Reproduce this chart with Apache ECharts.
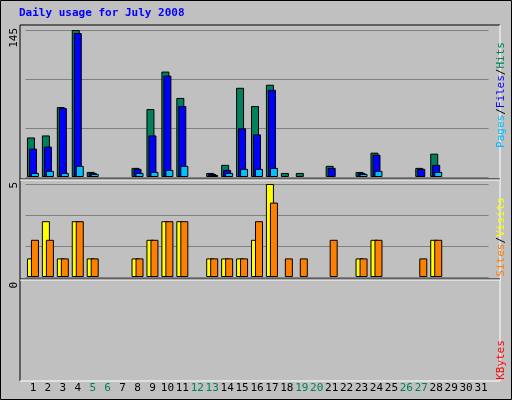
<!DOCTYPE html><html><head><meta charset="utf-8"><script src="https://cdn.jsdelivr.net/npm/echarts@6/dist/echarts.min.js"></script>
<style>html,body{margin:0;padding:0;background:#C0C0C0}#c{width:512px;height:400px}</style></head><body><div id="c"></div><script>
const days=['1','2','3','4','5','6','7','8','9','10','11','12','13','14','15','16','17','18','19','20','21','22','23','24','25','26','27','28','29','30','31'];
const weekend=['5','6','12','13','19','20','26','27'];
const hits=[39,41,69,145,5,0,0,9,67,104,78,0,4,12,88,70,91,4,4,0,11,0,5,24,0,0,9,23,0,0,0];
const files=[28,30,68,142,4,0,0,8,41,100,70,0,3,7,48,42,86,0,0,0,9,0,4,22,0,0,8,12,0,0,0];
const pages=[4,6,4,11,3,0,0,4,5,7,11,0,2,4,8,8,9,0,0,0,0,0,3,6,0,0,0,5,0,0,0];
const visits=[1,3,1,3,1,0,0,1,2,3,3,0,1,1,1,2,5,0,0,0,0,0,1,2,0,0,0,2,0,0,0];
const sites=[2,2,1,3,1,0,0,1,2,3,3,0,1,1,1,3,4,1,1,0,2,0,1,2,0,0,1,2,0,0,0];
const hitsMax=145, visMax=5, kbMax=0;
const nz=a=>a.map(v=>v===0?'-':v);
const ch=echarts.init(document.getElementById('c'));
const F='DejaVu Sans Mono';
const bs={borderColor:'#000',borderWidth:1};
const xa=(i,show)=>({type:'category',gridIndex:i,data:days,show:show,axisLine:{show:false},axisTick:{show:false},
 axisLabel:{show:show,interval:0,fontFamily:F,fontSize:11,margin:5,color:v=>weekend.includes(v)?'#00805C':'#000'}});
const ya=(i,max)=>({type:'value',gridIndex:i,min:0,max:max,interval:max/3,axisLabel:{show:false},axisLine:{show:false},axisTick:{show:false},
 splitLine:{show:i<2,lineStyle:{color:'#808080',width:1}}});
function line(x1,y1,x2,y2,c){return {type:'line',shape:{x1,y1,x2,y2},style:{stroke:c,lineWidth:1},z:-1};}
ch.setOption({animation:false,backgroundColor:'#C0C0C0',
 grid:[{left:25.5,width:463,top:30,height:147},{left:25.5,width:463,top:184,height:93},{left:25.5,width:463,top:282,height:96}],
 xAxis:[xa(0,false),xa(1,false),xa(2,true)],
 yAxis:[ya(0,hitsMax),ya(1,visMax),{type:'value',gridIndex:2,min:0,max:1,show:false,splitLine:{show:false}}],
 graphic:[
  {type:'rect',shape:{x:0.5,y:0.5,width:511,height:399},style:{fill:'none',stroke:'#000'},z:-2},
  line(20,25,500,25,'#000'),line(20,25,20,381,'#000'),line(20,381,500,381,'#fff'),line(500,25,500,381,'#fff'),
  line(20,179,500,179,'#000'),line(20,180,500,180,'#fff'),line(20,279,500,279,'#000'),line(20,280,500,280,'#fff'),
  {type:'text',x:19,y:8,style:{text:'Daily usage for July 2008',font:'bold 11px '+F,fill:'#0000FF'}},
  {type:'text',x:9,y:28,rotation:Math.PI/2,style:{text:String(hitsMax),font:'11px '+F,fill:'#000',align:'right',verticalAlign:'top'}},
  {type:'text',x:9,y:182,rotation:Math.PI/2,style:{text:String(visMax),font:'11px '+F,fill:'#000',align:'right',verticalAlign:'top'}},
  {type:'text',x:9,y:282,rotation:Math.PI/2,style:{text:String(kbMax),font:'11px '+F,fill:'#000',align:'right',verticalAlign:'top'}},
  {type:'text',x:496,y:95,rotation:Math.PI/2,style:{text:'{p|Pages}{s|/}{f|Files}{s|/}{h|Hits}',font:'11px '+F,align:'center',verticalAlign:'top',
   rich:{p:{fill:'#00C0FF',font:'11px '+F},f:{fill:'#0000FF',font:'11px '+F},h:{fill:'#00805C',font:'11px '+F},s:{fill:'#000',font:'11px '+F}}}},
  {type:'text',x:496,y:237,rotation:Math.PI/2,style:{text:'{a|Sites}{s|/}{b|Visits}',font:'11px '+F,align:'center',verticalAlign:'top',
   rich:{a:{fill:'#FF8000',font:'11px '+F},b:{fill:'#FFFF00',font:'11px '+F},s:{fill:'#000',font:'11px '+F}}}},
  {type:'text',x:496,y:360,rotation:Math.PI/2,style:{text:'KBytes',font:'11px '+F,fill:'#FF0000',align:'center',verticalAlign:'top'}}
 ],
 series:[
  {type:'bar',xAxisIndex:0,yAxisIndex:0,data:nz(hits),barWidth:8,barGap:'-75%',itemStyle:{color:'#00805C',...bs}},
  {type:'bar',xAxisIndex:0,yAxisIndex:0,data:nz(files),barWidth:8,barGap:'-75%',itemStyle:{color:'#0000FF',...bs}},
  {type:'bar',xAxisIndex:0,yAxisIndex:0,data:nz(pages),barWidth:8,barGap:'-75%',itemStyle:{color:'#00C0FF',...bs}},
  {type:'bar',xAxisIndex:1,yAxisIndex:1,data:nz(visits),barWidth:8,barGap:'-50%',itemStyle:{color:'#FFFF00',...bs}},
  {type:'bar',xAxisIndex:1,yAxisIndex:1,data:nz(sites),barWidth:8,barGap:'-50%',itemStyle:{color:'#FF8000',...bs}},
  {type:'bar',xAxisIndex:2,yAxisIndex:2,data:[],itemStyle:{color:'#FF0000'}}
 ]});
</script></body></html>
